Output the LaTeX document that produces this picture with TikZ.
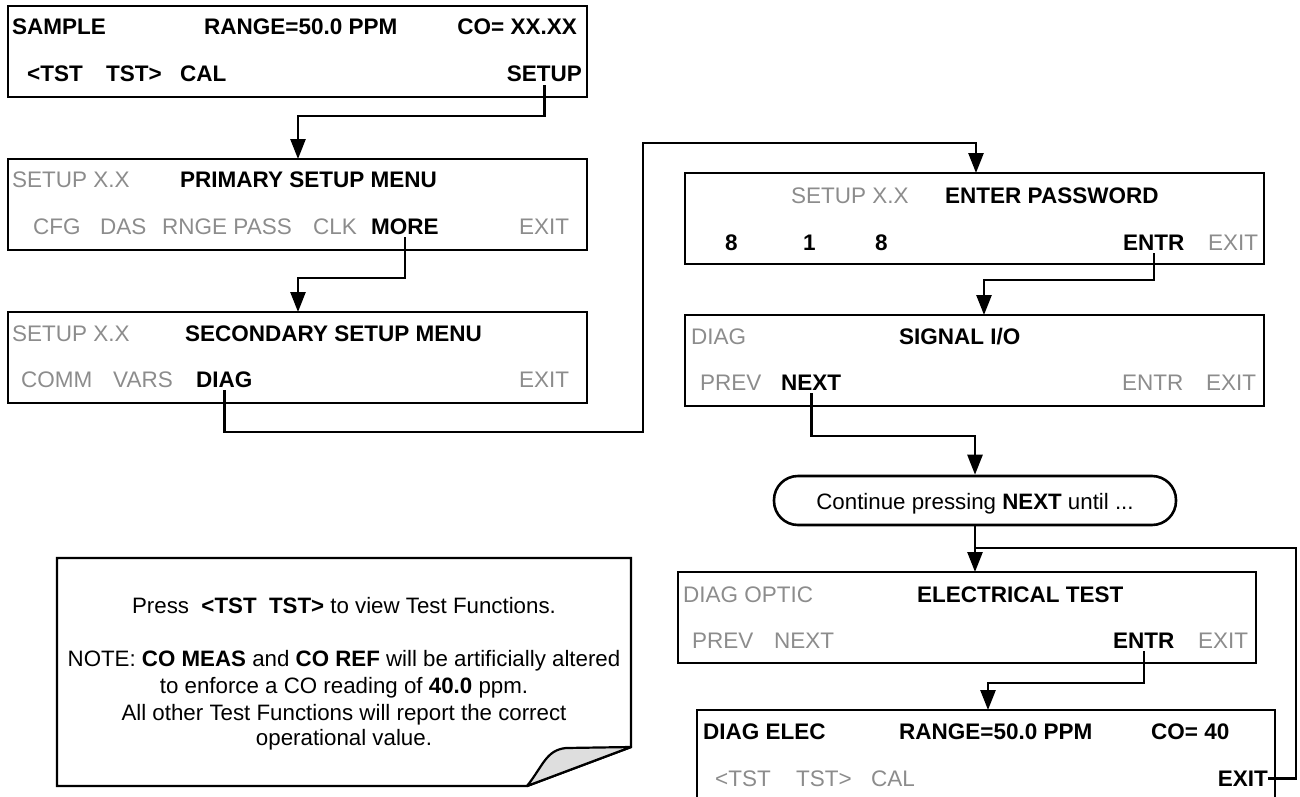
\documentclass[tikz,border=0pt]{standalone}
\usepackage{fontspec}
\setmainfont{Liberation Sans}
\usetikzlibrary{arrows.meta}
\definecolor{lcdgray}{RGB}{140,140,140}
\definecolor{foldgray}{RGB}{222,222,222}
\begin{document}
\begin{tikzpicture}[x=1pt,y=-1pt,
  lcd/.style={draw=black,line width=2.6pt,inner sep=0pt,outer sep=0pt,minimum width=579pt,minimum height=91pt},
  bt/.style={font=\fontsize{22.5}{27}\selectfont\bfseries,inner sep=0pt,text=black,anchor=base west},
  gt/.style={font=\fontsize{22.5}{27}\selectfont,inner sep=0pt,text=lcdgray,anchor=base west},
  nt/.style={font=\fontsize{22.3}{27}\selectfont,inner sep=0pt,anchor=base},
  conn/.style={line width=2.6pt,-{Triangle[length=20pt,width=15pt]}},
  wire/.style={line width=2.6pt},
]
\useasboundingbox (0,0) rectangle (1300,797);

% ---------------- boxes
\node[lcd] (b1) at (297.5,51.5) {};
\node[lcd] (b2) at (297.5,204.5) {};
\node[lcd] (b3) at (297.5,357.5) {};
\node[lcd] (b4) at (974.5,218.5) {};
\node[lcd] (b5) at (974.5,360.5) {};
\node[lcd,minimum width=578pt] (b6) at (967,617.5) {};
\node[lcd,minimum width=578pt,minimum height=120pt] (b7) at (986,770) {};
\node[draw=black,line width=2.6pt,inner sep=0pt,minimum width=402pt,minimum height=49pt,rounded corners=24pt] (cont) at (975,500.5) {};
\node[nt] (contt) at (975,509) {Continue pressing \textbf{NEXT} until ...};

% ---------------- box 1
\node[bt] (t1a) at (12,35) {SAMPLE};
\node[bt] (t1b) at (204,35) {RANGE=50.0 PPM};
\node[bt,anchor=base east] (t1c) at (577,35) {CO= XX.XX};
\node[bt] (t1d) at (27,82) {<TST};
\node[bt] (t1e) at (106,82) {TST>};
\node[bt] (t1f) at (180,82) {CAL};
\node[bt,anchor=base east] (t1setup) at (582,82) {SETUP};

% ---------------- box 2
\node[gt] (t2a) at (12,187) {SETUP X.X};
\node[bt] (t2b) at (180,187) {PRIMARY SETUP MENU};
\node[gt] (t2c) at (33,234) {CFG};
\node[gt] (t2d) at (100,234) {DAS};
\node[gt] (t2e) at (162,234) {RNGE PASS};
\node[gt] (t2f) at (313,234) {CLK};
\node[bt] (t2more) at (371,234) {MORE};
\node[gt] (t2g) at (519,234) {EXIT};

% ---------------- box 3
\node[gt] (t3a) at (12,341) {SETUP X.X};
\node[bt] (t3b) at (185,341) {SECONDARY SETUP MENU};
\node[gt] (t3c) at (21,387) {COMM};
\node[gt] (t3d) at (113,387) {VARS};
\node[bt] (t3diag) at (196,387) {DIAG};
\node[gt] (t3e) at (519,387) {EXIT};

% ---------------- box 4
\node[gt] (t4a) at (791,203) {SETUP X.X};
\node[bt] (t4b) at (945,203) {ENTER PASSWORD};
\node[bt] (t4c) at (725,250) {8};
\node[bt] (t4d) at (803,250) {1};
\node[bt] (t4e) at (875,250) {8};
\node[bt] (t4entr) at (1123,250) {ENTR};
\node[gt] (t4f) at (1208,250) {EXIT};

% ---------------- box 5
\node[gt] (t5a) at (691,344) {DIAG};
\node[bt] (t5b) at (899,344) {SIGNAL I/O};
\node[gt] (t5c) at (700,390) {PREV};
\node[bt] (t5next) at (781,390) {NEXT};
\node[gt] (t5d) at (1122,390) {ENTR};
\node[gt] (t5e) at (1206,390) {EXIT};

% ---------------- box 6
\node[gt] (t6a) at (683,602) {DIAG OPTIC};
\node[bt] (t6b) at (917,602) {ELECTRICAL TEST};
\node[gt] (t6c) at (692,648) {PREV};
\node[gt] (t6d) at (774,648) {NEXT};
\node[bt] (t6entr) at (1113,648) {ENTR};
\node[gt] (t6e) at (1198,648) {EXIT};

% ---------------- box 7
\node[bt] (t7a) at (703,739) {DIAG ELEC};
\node[bt] (t7b) at (899,739) {RANGE=50.0 PPM};
\node[bt] (t7c) at (1151,739) {CO= 40};
\node[gt] (t7d) at (715,786) {<TST};
\node[gt] (t7e) at (796,786) {TST>};
\node[gt] (t7f) at (871,786) {CAL};
\node[bt,anchor=base east] (t7exit) at (1268,786) {EXIT};

% ---------------- connectors
\coordinate (k1) at (298,116);
\draw[conn] ([yshift=-3pt]t1setup.south) |- (k1) -- (k1 |- b2.north);
\coordinate (k2) at (298,278);
\draw[conn] ([yshift=-3pt]t2more.south) |- (k2) -- (k2 |- b3.north);
\coordinate (k3a) at (643,432);
\coordinate (k3b) at (976,143);
\draw[conn] ([yshift=-3pt]t3diag.south) |- (k3a) |- (k3b) -- (k3b |- b4.north);
\coordinate (k4) at (984,280);
\draw[conn] ([yshift=-3pt]t4entr.south) |- (k4) -- (k4 |- b5.north);
\coordinate (k5) at (975,436);
\draw[conn] ([yshift=-3pt]t5next.south) |- (k5) -- (k5 |- cont.north);
\draw[conn] (cont.south) -- (cont.south |- b6.north);
\coordinate (k7) at (1296,548);
\draw[wire] (t7exit.east) -| (k7) -- (k7 -| cont.south);
\coordinate (k6) at (988,683);
\draw[conn] ([yshift=-3pt]t6entr.south) |- (k6) -- (k6 |- b7.north);

% ---------------- note
\draw[line width=2.4pt,line join=miter] (57,558) -- (631,558) -- (631,747) -- (527,786) -- (57,786) -- cycle;
\draw[line width=2.2pt,fill=foldgray,line join=round] (527,786) .. controls (543,766) and (546,750) .. (566,748) -- (631,747) -- cycle;
\node[nt] (n1) at (344,613) {Press~~\textbf{<TST~~TST>} to view Test Functions.};
\node[nt] (n2) at (344,666) {NOTE: \textbf{CO MEAS} and \textbf{CO REF} will be artificially altered};
\node[nt] (n3) at (344,693) {to enforce a CO reading of \textbf{40.0} ppm.};
\node[nt] (n4) at (344,720) {All other Test Functions will report the correct};
\node[nt] (n5) at (344,745) {operational value.};
\end{tikzpicture}
\end{document}
